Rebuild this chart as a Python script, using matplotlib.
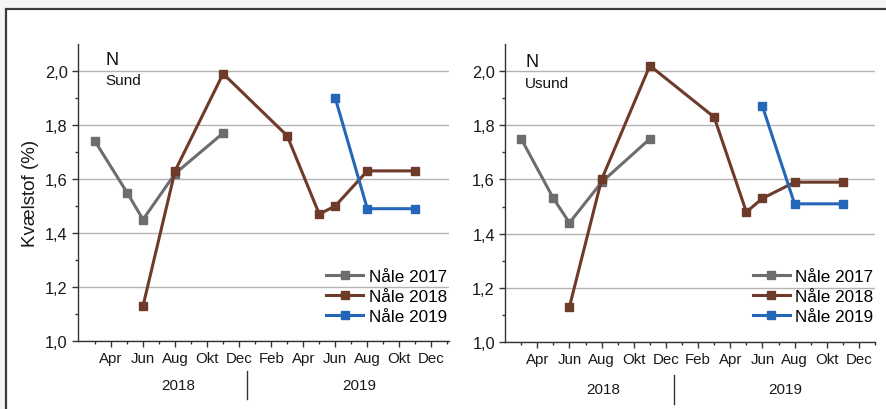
import matplotlib.pyplot as plt
from matplotlib.patches import Rectangle
from matplotlib.transforms import blended_transform_factory

plt.rcParams['font.family'] = ['Liberation Sans', 'DejaVu Sans']

# months counted from Jan 2018 = 1
x_2017 = [3, 5, 6, 8, 11]
x_2018 = [6, 8, 11, 15, 17, 18, 20, 23]
x_2019 = [18, 20, 23]

sund_2017 = [1.74, 1.55, 1.45, 1.62, 1.77]
sund_2018 = [1.13, 1.63, 1.99, 1.76, 1.47, 1.50, 1.63, 1.63]
sund_2019 = [1.90, 1.49, 1.49]

usund_2017 = [1.75, 1.53, 1.44, 1.59, 1.75]
usund_2018 = [1.13, 1.60, 2.02, 1.83, 1.48, 1.53, 1.59, 1.59]
usund_2019 = [1.87, 1.51, 1.51]

month_ticks = [4, 6, 8, 10, 12, 14, 16, 18, 20, 22, 24]
month_labels = ['Apr', 'Jun', 'Aug', 'Okt', 'Dec', 'Feb', 'Apr', 'Jun', 'Aug', 'Okt', 'Dec']
y_ticks = [1.0, 1.2, 1.4, 1.6, 1.8, 2.0]
y_labels = ['1,0', '1,2', '1,4', '1,6', '1,8', '2,0']

c_2017 = '#6d6d70'
c_2018 = '#6e3b2a'
c_2019 = '#2566b8'

fig = plt.figure(figsize=(8.87, 4.10), dpi=100, facecolor='#f5f5f5')
fig.patches.append(Rectangle((0.0068, -0.05), 1.05, 0.9756 + 0.05,
                             transform=fig.transFigure, facecolor='white',
                             edgecolor='#3a3a3a', linewidth=1.6, zorder=-5))


def panel(rect, xlim, s17, s18, s19, title, yr_x, yr_y, sep_x, sep_y, leg_xy):
    ax = fig.add_axes(rect)
    ax.set_facecolor('none')
    ax.set_xlim(*xlim)
    ax.set_ylim(1.0, 2.1)
    for s in ['top', 'right']:
        ax.spines[s].set_visible(False)
    for s in ['left', 'bottom']:
        ax.spines[s].set_color('#333333')
        ax.spines[s].set_linewidth(1.0)
    ax.set_yticks(y_ticks)
    ax.set_yticklabels(y_labels, fontsize=11.8, color='#1a1a1a')
    ax.set_yticks([1.1, 1.3, 1.5, 1.7, 1.9], minor=True)
    ax.set_xticks(month_ticks)
    ax.set_xticklabels(month_labels, fontsize=10.8, color='#1a1a1a')
    ax.set_xticks(range(3, 26), minor=True)
    ax.tick_params(which='major', length=4.3, width=1, color='#333333')
    ax.tick_params(which='minor', length=2.2, width=1, color='#333333')
    ax.tick_params(axis='y', which='major', pad=3.2)
    ax.tick_params(axis='x', which='major', pad=2.8)
    ax.grid(axis='y', color='#b4b4b4', linewidth=1.0)
    ax.set_axisbelow(True)

    kw = dict(marker='s', markersize=6.2, linewidth=2.2)
    ax.plot(x_2017, s17, color=c_2017, label='Nåle 2017', **kw)
    ax.plot(x_2018, s18, color=c_2018, label='Nåle 2018', **kw)
    ax.plot(x_2019, s19, color=c_2019, label='Nåle 2019', **kw)

    ax.text(title[0], title[1], 'N', transform=ax.transAxes, fontsize=13,
            va='center', ha='left', color='#111111')
    ax.text(title[0], title[2], title[3], transform=ax.transAxes, fontsize=11,
            va='center', ha='left', color='#111111')

    tr = blended_transform_factory(ax.transData, ax.transAxes)
    ax.text(yr_x[0], yr_y, '2018', transform=tr, fontsize=11, ha='center',
            va='center', color='#1a1a1a')
    ax.text(yr_x[1], yr_y, '2019', transform=tr, fontsize=11, ha='center',
            va='center', color='#1a1a1a')
    ax.plot([sep_x, sep_x], sep_y, transform=tr, color='#333333',
            linewidth=1.0, clip_on=False)

    ax.legend(loc='upper left', bbox_to_anchor=leg_xy, frameon=False,
              fontsize=12.3, handlelength=2.2, handletextpad=0.3,
              labelspacing=0.3, borderpad=0, borderaxespad=0)
    return ax


left = panel([78 / 887, 68 / 410, 371 / 887, 297 / 410], (1.94, 25.1),
             sund_2017, sund_2018, sund_2019, (0.073, 0.949, 0.879, 'Sund'),
             (8.2, 19.5), -0.148, 12.5, (-0.101, -0.195), (0.668, 0.242))
left.set_ylabel('Kvælstof (%)', fontsize=13.5, color='#1a1a1a', labelpad=4)

panel([505.3 / 887, 67 / 410, 369.7 / 887, 298 / 410], (2.01, 24.97),
      usund_2017, usund_2018, usund_2019, (0.054, 0.94, 0.869, 'Usund'),
      (8.1, 19.4), -0.158, 12.47, (-0.111, -0.208), (0.669, 0.245))

fig.savefig('out.png', dpi=100, facecolor=fig.get_facecolor())
